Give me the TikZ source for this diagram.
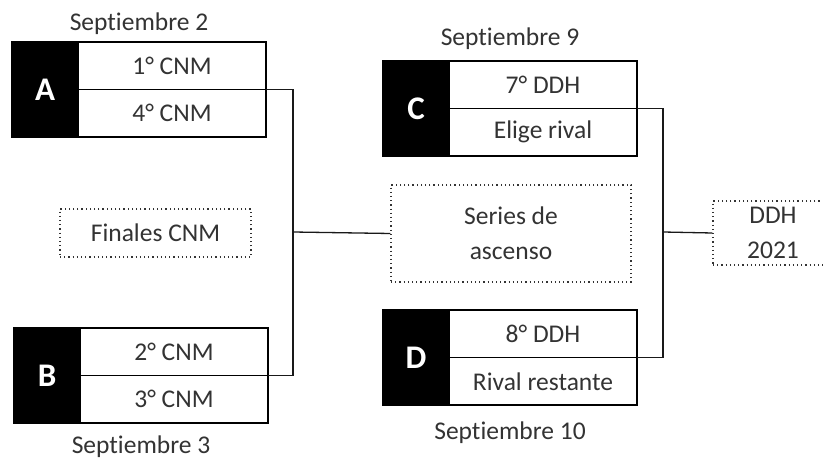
\documentclass[tikz,border=0pt]{standalone}
\usepackage{fontspec}
\setmainfont{Carlito}[Ligatures=NoCommon]
\usepackage{tikz}
\usetikzlibrary{positioning,calc}
\tikzset{
    letterbox/.style={
        draw=black, fill=black, text=white, line width=1.5pt,
        minimum width=66pt, minimum height=95pt, inner sep=0pt, outer sep=0pt,
        font=\fontsize{33}{36}\selectfont\bfseries, anchor=north west
    },
    cell/.style={
        draw=black, fill=white, text=black!80, line width=1.5pt,
        minimum width=188pt, minimum height=47.5pt, inner sep=0pt, outer sep=0pt,
        font=\fontsize{25.5}{30}\selectfont, anchor=north west
    },
    datelabel/.style={
        text=black!80, inner sep=0pt,
        font=\fontsize{25.5}{30}\selectfont
    },
    dotbox/.style={
        draw=black!80, dash pattern=on 1.2pt off 3pt, line width=1.2pt, text=black!80, inner sep=0pt,
        align=center, font=\fontsize{25.5}{35}\selectfont
    },
    link/.style={
        draw=black!90, line width=1.3pt
    }
}

\begin{document}
\begin{tikzpicture}[x=1pt,y=1pt]
        \clip (0,0) rectangle (823,461);
        \fill[white] (0,0) rectangle (823,461);

        % draw the four groups
        \foreach \g/\gx/\gy/\top/\bot in {A/12/419/1° CNM/4° CNM, B/14/133/2° CNM/3° CNM,
                                          C/383/400/7° DDH/Elige rival, D/383/151/8° DDH/Rival restante}
        {
            \node[letterbox] (\g) at (\gx,\gy) {\g};
            \node[cell] (\g1) at (\g.north east) {\top};
            \node[cell] (\g2) at (\g1.south west) {\bot};
        }

        % draw dates
        \node[datelabel, above=7pt] (dA) at ($(A.north west)!.5!(A1.north east)$) {Septiembre 2};
        \node[datelabel, below=13pt] (dB) at ($(B.south west)!.5!(B2.south east)$) {Septiembre 3};
        \node[datelabel, above=11pt] (dC) at ($(C.north west)!.5!(C1.north east)$) {Septiembre 9};
        \node[datelabel, below=17pt] (dD) at ($(D.south west)!.5!(D2.south east)$) {Septiembre 10};

        % draw dotted boxes
        \node[dotbox, minimum width=191pt, minimum height=48pt] (fin) at (155.5,228) {Finales CNM};
        \node[dotbox, minimum width=240pt, minimum height=97pt] (ser) at (511,227.5) {Series de\\ascenso};
        \node[dotbox, minimum width=120pt, minimum height=64pt] (ddh) at (773,228) {DDH\\2021};

        % draw connectors
        \coordinate (jl) at (293,229);
        \coordinate (jr) at (663,229);
        \draw[link] (A1.south east) -| (jl) |- (B1.south east);
        \draw[link] (C1.south east) -| (jr) |- (D1.south east);
        \draw[link] (jl) -- (ser.west);
        \draw[link] (jr) -- (ddh.west);
    \end{tikzpicture}
\end{document}
